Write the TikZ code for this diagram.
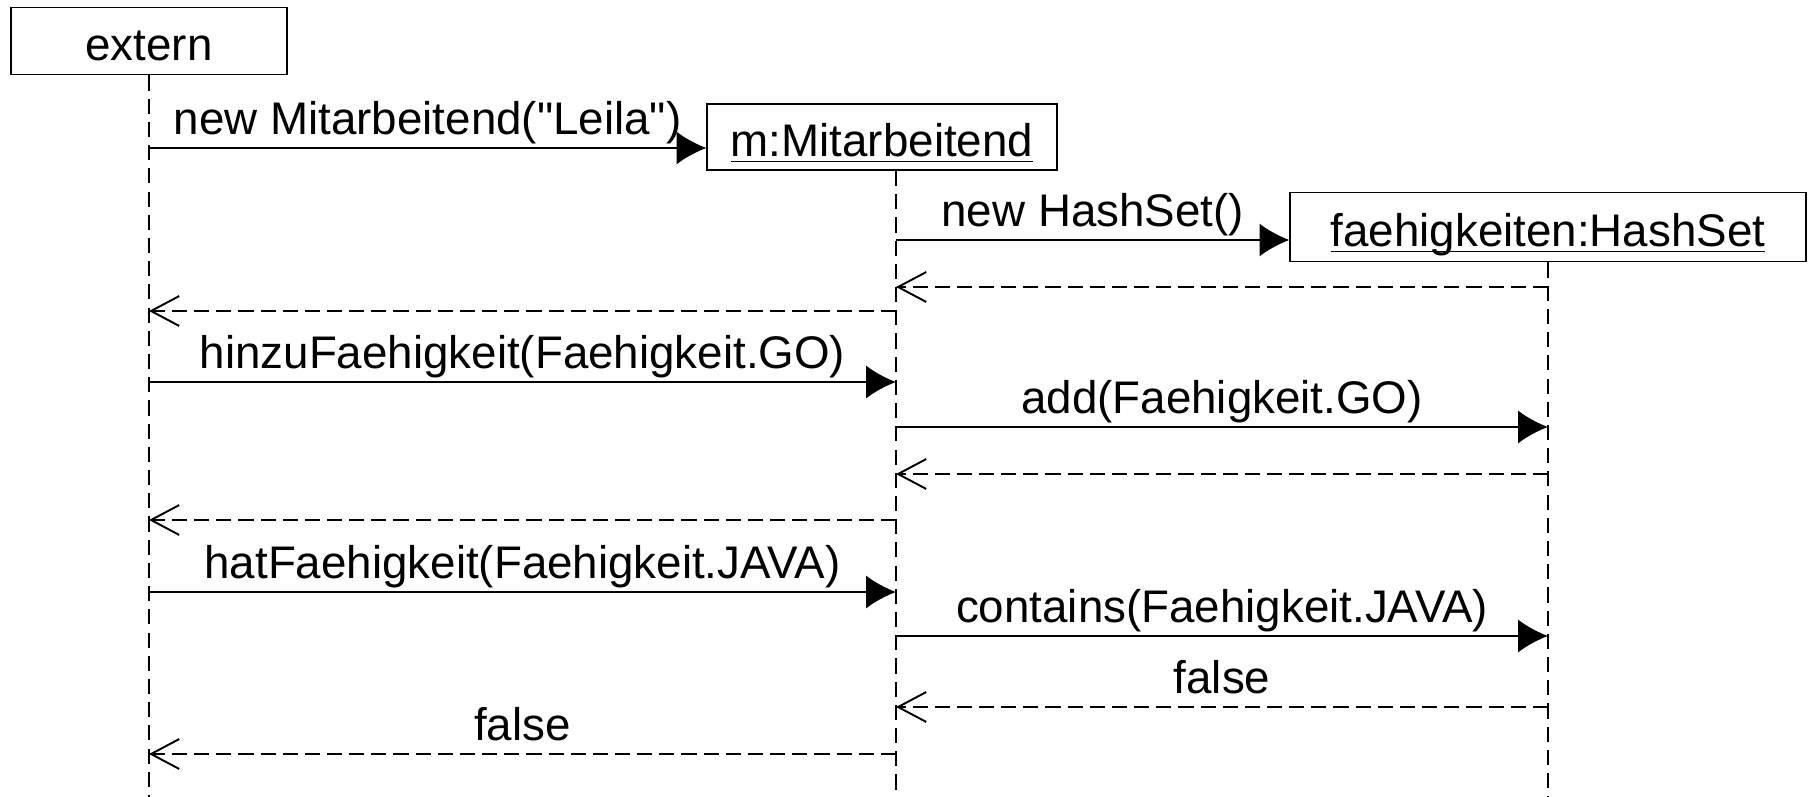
\documentclass[tikz,border=0pt]{standalone}
\usepackage{fontspec}
\setmainfont{Liberation Sans}
\usetikzlibrary{arrows.meta, positioning, calc}

\newcommand{\objname}[1]{\underline{\raisebox{0pt}[\height][0pt]{#1}}}

\begin{document}
\begin{tikzpicture}[x=0.01cm, y=-0.01cm, line width=0.55pt, font=\fontsize{13}{15}\selectfont,
  obj/.style={draw, inner sep=0pt, minimum height=0.67cm, text height=12pt, text depth=1pt, align=center},
  life/.style={dash pattern=on 4.3pt off 2.3pt},
  call/.style={-{Latex[length=8.5pt, width=9.4pt]}},
  ret/.style={dash pattern=on 4.3pt off 2pt, -{Straight Barb[length=8pt, width=8.5pt]}},
  msg/.style={midway, anchor=base, inner sep=0pt, yshift=0.13cm}]
\useasboundingbox (0,0) rectangle (1808,797);
% objects
\node[obj, minimum width=2.76cm] (ext) at (149,41) {extern};
\node[obj, minimum width=3.49cm, minimum height=0.66cm] (m) at (882,137) {\objname{m:Mitarbeitend}};
\node[obj, minimum width=5.15cm, minimum height=0.69cm] (fs) at (1548,227) {\objname{faehigkeiten:HashSet}};
% lifelines
\coordinate (bot) at (0,797);
\coordinate (ml) at ([xshift=0.14cm]m.south);
\draw[life] (ext.south) -- (ext.south |- bot);
\draw[life] (ml) -- (ml |- bot);
\draw[life] (fs.south) -- (fs.south |- bot);
% construction
\draw[call] (ext.south |- 0,148) -- (m.west |- 0,148) node[msg] {new Mitarbeitend(\textquotedbl Leila\textquotedbl)};
\draw[call] (ml |- 0,240) -- (fs.west |- 0,240) node[msg] {new HashSet()};
\draw[ret] (fs.south |- 0,287) -- (ml |- 0,287);
\draw[ret] (ml |- 0,311) -- (ext.south |- 0,311);
% hinzuFaehigkeit
\draw[call] (ext.south |- 0,382) -- (ml |- 0,382) node[msg] {hinzuFaehigkeit(Faehigkeit.GO)};
\draw[call] (ml |- 0,427) -- (fs.south |- 0,427) node[msg] {add(Faehigkeit.GO)};
\draw[ret] (fs.south |- 0,474) -- (ml |- 0,474);
\draw[ret] (ml |- 0,520) -- (ext.south |- 0,520);
% hatFaehigkeit
\draw[call] (ext.south |- 0,592) -- (ml |- 0,592) node[msg] {hatFaehigkeit(Faehigkeit.JAVA)};
\draw[call] (ml |- 0,636) -- (fs.south |- 0,636) node[msg] {contains(Faehigkeit.JAVA)};
\draw[ret] (fs.south |- 0,707) -- (ml |- 0,707) node[msg] {false};
\draw[ret] (ml |- 0,754) -- (ext.south |- 0,754) node[msg] {false};
\end{tikzpicture}
\end{document}
